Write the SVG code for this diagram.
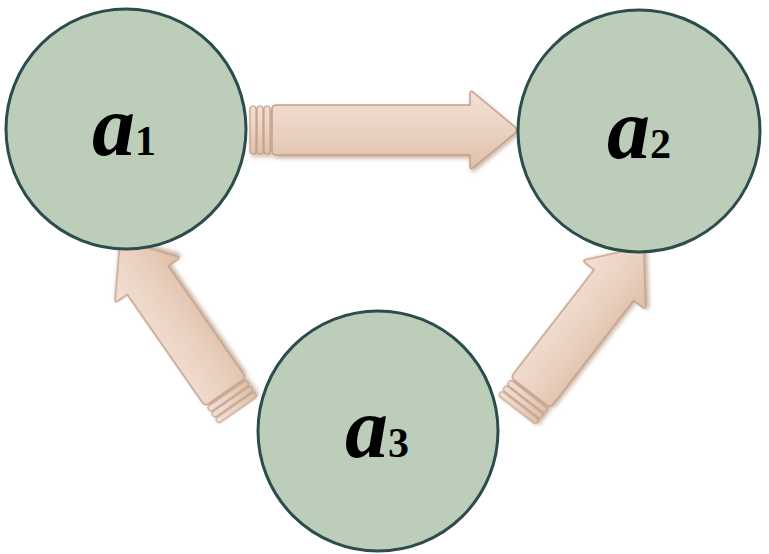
<svg xmlns="http://www.w3.org/2000/svg" width="769" height="554" viewBox="0 0 769 554">
<defs>
<linearGradient id="ag" x1="0" y1="0" x2="0" y2="1">
<stop offset="0" stop-color="#f2e0d4"/>
<stop offset="0.5" stop-color="#ead2c2"/>
<stop offset="1" stop-color="#dfbfa8"/>
</linearGradient>
<filter id="sh" x="-20%" y="-40%" width="140%" height="180%">
<feDropShadow dx="1.5" dy="2.5" stdDeviation="2" flood-color="#9a6f50" flood-opacity="0.55"/>
</filter>
<style>
.node{fill:#bccdb9;stroke:#2c4d4c;stroke-width:3}
.arr{fill:url(#ag);stroke:#c4a08a;stroke-width:1.5;stroke-linejoin:round}
.ring{fill:url(#ag);stroke:#c4a08a;stroke-width:1.2}
.lbl{font-family:"Liberation Serif","Times New Roman",serif;font-weight:bold;fill:#000;text-anchor:middle}
.v{font-style:italic;font-size:86px}
.s{font-size:42px}
</style>
</defs>
<g id="connectors">
<g id="arrow-a1-a2" transform="translate(250,130)" filter="url(#sh)">
<rect class="ring" x="0" y="-24" width="6" height="48" rx="3"/>
<rect class="ring" x="7" y="-24" width="6" height="48" rx="3"/>
<rect class="ring" x="14" y="-24" width="6" height="48" rx="3"/>
<path class="arr" d="M22,-21 Q22,-25 27,-25 L220,-25 L220,-36 Q220,-41 224,-37 L265,-3 Q268,0 265,3 L224,37 Q220,41 220,36 L220,25 L27,25 Q22,25 22,21 Z"/>
</g>
<g id="arrow-a3-a1" transform="translate(238,410) rotate(-124.8)" filter="url(#sh)">
<rect class="ring" x="0" y="-24" width="6" height="48" rx="3"/>
<rect class="ring" x="7" y="-24" width="6" height="48" rx="3"/>
<rect class="ring" x="14" y="-24" width="6" height="48" rx="3"/>
<path class="arr" d="M22,-21 Q22,-25 27,-25 L158,-25 L158,-36 Q158,-41 162,-37 L203,-3 Q206,0 203,3 L162,37 Q158,41 158,36 L158,25 L27,25 Q22,25 22,21 Z"/>
</g>
<g id="arrow-a3-a2" transform="translate(517,410) rotate(-52.2)" filter="url(#sh)">
<rect class="ring" x="0" y="-24" width="6" height="48" rx="3"/>
<rect class="ring" x="7" y="-24" width="6" height="48" rx="3"/>
<rect class="ring" x="14" y="-24" width="6" height="48" rx="3"/>
<path class="arr" d="M22,-21 Q22,-25 27,-25 L158,-25 L158,-36 Q158,-41 162,-37 L203,-3 Q206,0 203,3 L162,37 Q158,41 158,36 L158,25 L27,25 Q22,25 22,21 Z"/>
</g>
</g>
<g id="a1">
<circle class="node" cx="126" cy="129" r="120"/>
<text class="lbl" x="124" y="155"><tspan class="v">a</tspan><tspan class="s">1</tspan></text>
</g>
<g id="a2">
<circle class="node" cx="639" cy="131" r="121"/>
<text class="lbl" x="639" y="158"><tspan class="v">a</tspan><tspan class="s">2</tspan></text>
</g>
<g id="a3">
<circle class="node" cx="378" cy="431" r="120"/>
<text class="lbl" x="377" y="457"><tspan class="v">a</tspan><tspan class="s">3</tspan></text>
</g>
</svg>
